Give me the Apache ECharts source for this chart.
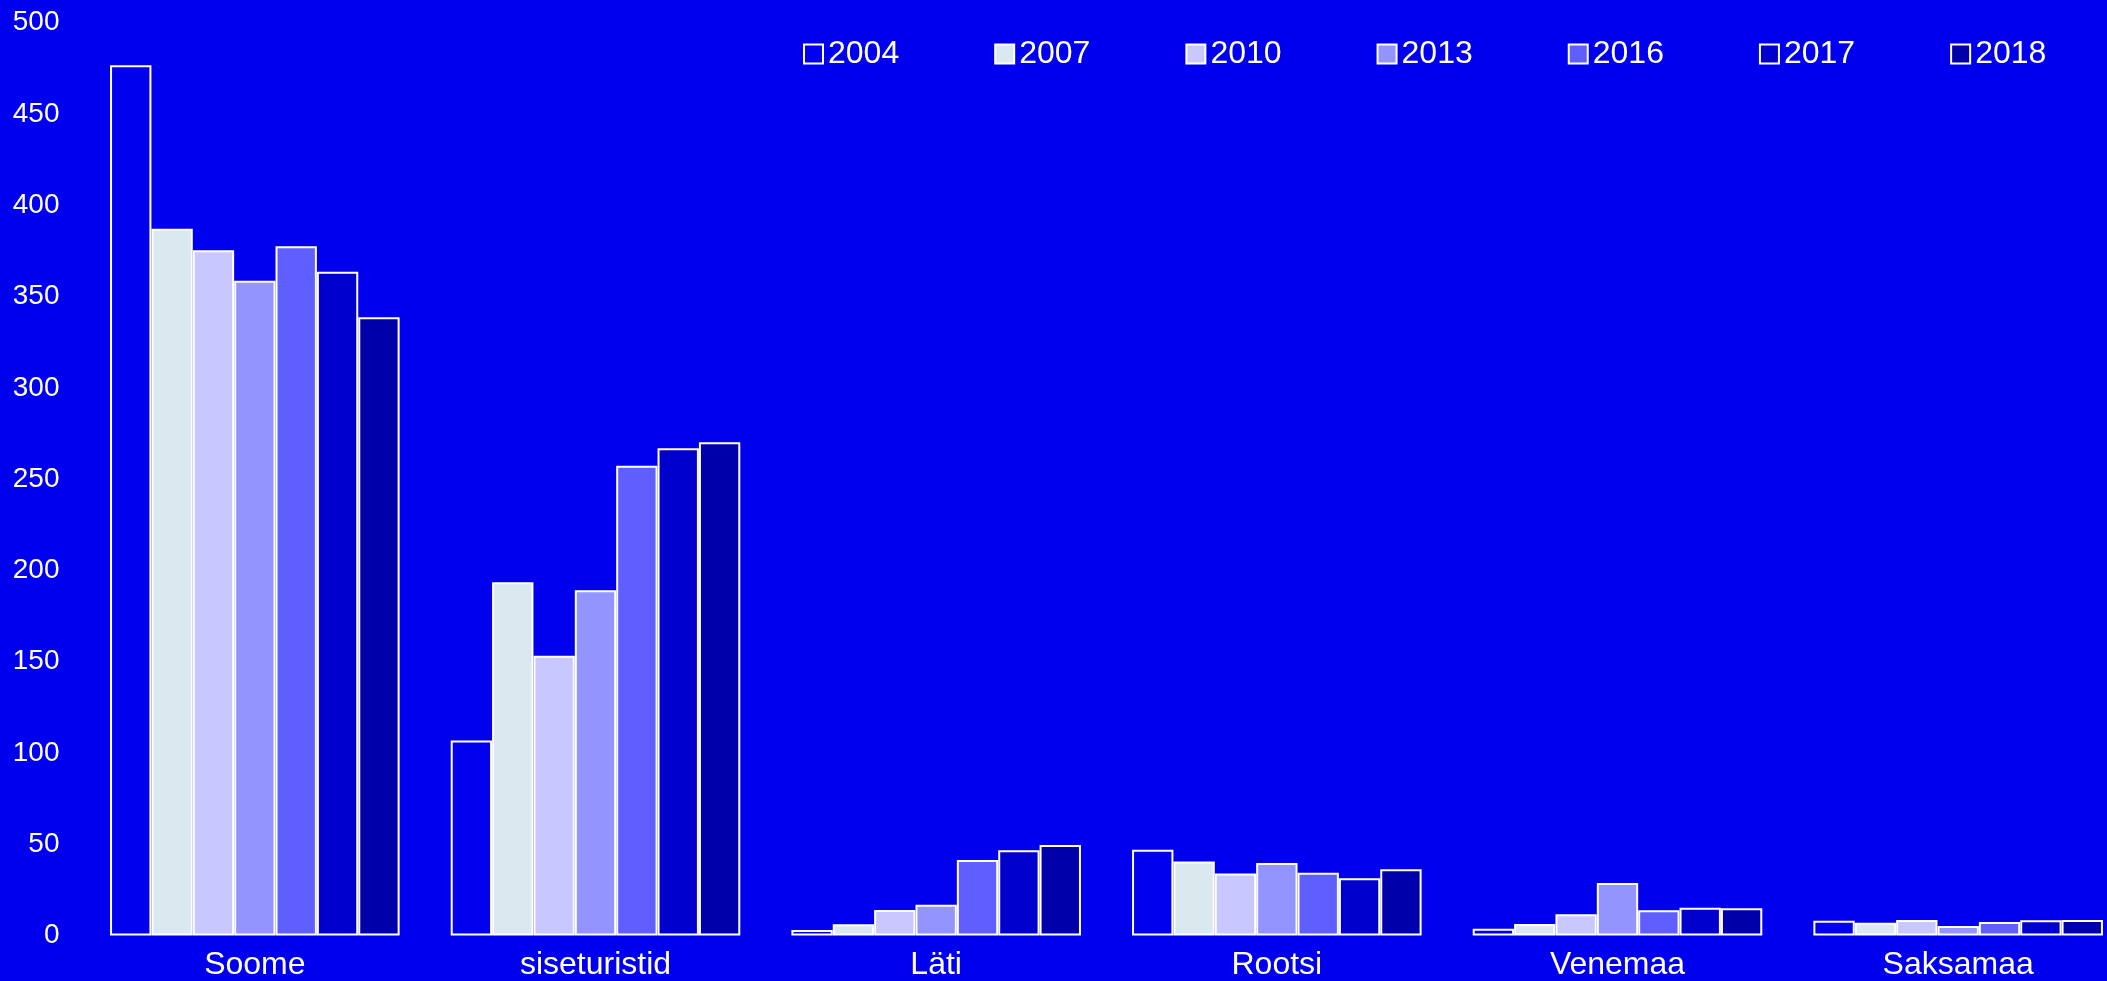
<!DOCTYPE html>
<html>
<head>
<meta charset="utf-8">
<script src="https://cdn.jsdelivr.net/npm/echarts@6/dist/echarts.min.js"></script>
<style>
html,body{margin:0;padding:0;background:#0000ee;}
#c{width:2107px;height:981px;}
</style>
</head>
<body>
<div id="c"></div>
<script>
const categories = ['Soome', 'siseturistid', 'Läti', 'Rootsi', 'Venemaa', 'Saksamaa'];
const years = ['2004', '2007', '2010', '2013', '2016', '2017', '2018'];
const v2004 = [476.7, 106.8, 3.0, 47.0, 3.7, 8.1];
const v2007 = [387.2, 193.5, 6.1, 40.6, 6.3, 7.0];
const v2010 = [375.3, 153.2, 14.0, 33.9, 11.6, 8.5];
const v2013 = [358.7, 189.1, 16.9, 39.7, 28.8, 5.2];
const v2016 = [377.5, 257.3, 41.4, 34.4, 13.8, 7.4];
const v2017 = [363.6, 266.9, 46.7, 31.3, 15.2, 8.3];
const v2018 = [338.6, 270.2, 49.6, 36.3, 14.9, 8.5];
const yTicks = {min: 0, max: 500, interval: 50};

const seriesValues = [v2004, v2007, v2010, v2013, v2016, v2017, v2018];
const colors = ['#0000ee', '#dae8f0', '#c8c8ff', '#9494ff', '#5f5fff', '#0000cc', '#0000aa'];

const chart = echarts.init(document.getElementById('c'));
chart.setOption({
  backgroundColor: '#0000ee',
  animation: false,
  textStyle: {fontFamily: 'Liberation Sans', color: '#ffffff'},
  legend: {
    left: 798,
    top: 33,
    itemWidth: 19,
    itemHeight: 19,
    itemGap: 95,
    icon: 'rect',
    textStyle: {color: '#ffffff', fontSize: 32, fontFamily: 'Liberation Sans'},
    data: years
  },
  grid: {left: 84.5, top: 22.7, width: 2044, height: 912.8, containLabel: false, outerBoundsMode: 'none'},
  xAxis: {
    type: 'category',
    data: categories,
    axisLine: {show: false},
    axisTick: {show: false},
    axisLabel: {color: '#ffffff', fontSize: 32, margin: 14, fontFamily: 'Liberation Sans'}
  },
  yAxis: {
    type: 'value',
    min: yTicks.min,
    max: yTicks.max,
    interval: yTicks.interval,
    splitLine: {show: false},
    axisLine: {show: false},
    axisTick: {show: false},
    axisLabel: {color: '#ffffff', fontSize: 28, margin: 25, fontFamily: 'Liberation Sans'}
  },
  series: years.map((y, i) => ({
    name: y,
    type: 'bar',
    data: seriesValues[i],
    barGap: '0%',
    barCategoryGap: '15%',
    itemStyle: {color: colors[i], borderColor: '#ffffff', borderWidth: 2}
  }))
});
</script>
</body>
</html>
